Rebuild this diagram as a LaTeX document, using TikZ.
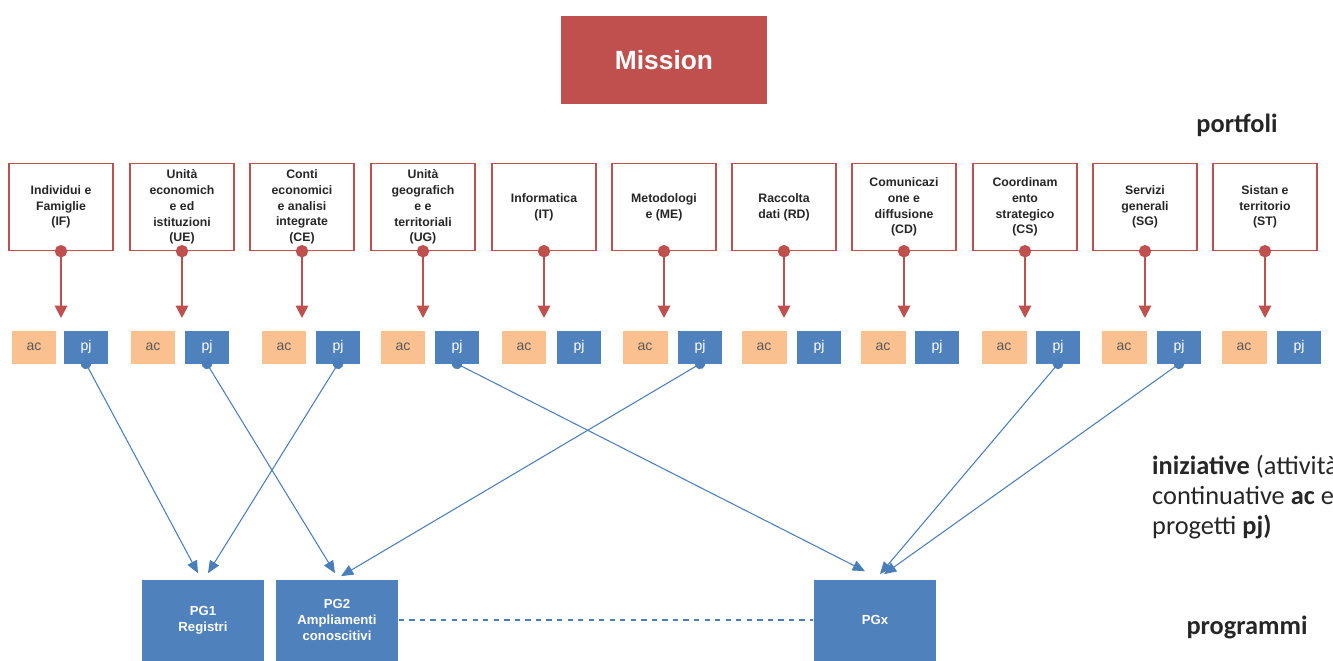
\documentclass[tikz,border=0pt]{standalone}
\usepackage{fontspec}
\setmainfont{Liberation Sans}
\newfontfamily\labelfont{Carlito}
\usetikzlibrary{arrows.meta,calc,positioning}
\definecolor{missionred}{HTML}{C0504D}
\definecolor{pjblue}{HTML}{4F81BD}
\definecolor{acorange}{HTML}{FAC090}
\definecolor{linkblue}{HTML}{4A7EBB}

\begin{document}
\begin{tikzpicture}[
    x=0.02cm, y=-0.02cm,
    portfolio/.style={
        draw=missionred, fill=white,
        line width=0.8pt, inner sep=1pt,
        minimum width=2.08cm, minimum height=1.74cm,
        align=center, text=black!85,
        font=\fontsize{7}{9}\selectfont\bfseries
    },
    acbox/.style={fill=acorange, minimum width=0.9cm, minimum height=0.66cm,
        text=black!65, font=\fontsize{8}{9}\selectfont},
    pjbox/.style={fill=pjblue, minimum width=0.88cm, minimum height=0.66cm,
        text=white, font=\fontsize{8}{9}\selectfont},
    program/.style={fill=pjblue, minimum width=2.46cm, minimum height=1.62cm,
        align=center, text=white, font=\fontsize{7.5}{9.2}\selectfont\bfseries},
    redlink/.style={draw=missionred, line width=1.1pt, shorten <=-3.5pt,
        {Circle[length=7pt]}-{Triangle[length=7pt,width=7pt]}},
    bluelink/.style={draw=linkblue, line width=0.6pt, shorten <=-3pt,
        {Circle[length=6pt]}-{Triangle[length=7pt,width=6pt]}},
    sidelabel/.style={text=black!85, font=\labelfont\fontsize{15}{17}\selectfont}
]
\useasboundingbox (0,0) rectangle (1333,660);

\node[fill=missionred, minimum width=4.14cm, minimum height=1.76cm,
    text=white, font=\fontsize{15}{18}\selectfont\bfseries] (mission) at (664,60) {Mission};

\foreach \c/\ac/\pj/\txt [count=\i] in {
    61/34/86/{Individui e\\Famiglie\\(IF)},
    182/153/207/{Unità\\economich\\e ed\\istituzioni\\(UE)},
    302/284/338/{Conti\\economici\\e analisi\\integrate\\(CE)},
    423/403/457/{Unità\\geografich\\e e\\territoriali\\(UG)},
    544/524/579/{Informatica\\(IT)},
    664/645/700/{Metodologi\\e (ME)},
    784/764/819/{Raccolta\\dati (RD)},
    904/883/937/{Comunicazi\\one e\\diffusione\\(CD)},
    1025/1004/1058/{Coordinam\\ento\\strategico\\(CS)},
    1145/1124/1179/{Servizi\\generali\\(SG)},
    1265/1244/1299/{Sistan e\\territorio\\(ST)}}{
  \node[portfolio] (pf\i) at (\c,207) {\txt};
  \node[acbox] (ac\i) at (\ac,347) {ac};
  \node[pjbox] (pj\i) at (\pj,347) {pj};
  \coordinate (in\i) at (\c,318);
  \draw[redlink] (pf\i.south) -- (in\i);
}

\node[program] (pg1) at (203,620) {PG1\\Registri};
\node[program] (pg2) at (337,620) {PG2\\Ampliamenti\\conoscitivi};
\node[program] (pgx) at (875,620) {PGx};

\draw[bluelink] (pj1.south) -- ($(pg1.north)+(-5,-6)$);
\draw[bluelink] (pj3.south) -- ($(pg1.north)+(5,-6)$);
\draw[bluelink] (pj2.south) -- ($(pg2.north)+(-2,-6)$);
\draw[bluelink] (pj6.south) -- ($(pg2.north)+(4,-3)$);
\draw[bluelink] (pj4.south) -- ($(pgx.north)+(-10,-8)$);
\draw[bluelink] (pj9.south) -- ($(pgx.north)+(5,-5)$);
\draw[bluelink] (pj10.south) -- ($(pgx.north)+(9,-5)$);
\draw[linkblue, line width=0.6pt, dashed] (pg2.east) -- (pgx.west);

\node[sidelabel] (portfoli) at (1237,125) {\textbf{portfoli}};
\node[sidelabel, anchor=north west, align=left] (iniziative) at (1146,449)
    {\textbf{iniziative} (attività\\continuative \textbf{ac} e\\progetti \textbf{pj)}};
\node[sidelabel] (programmi) at (1247,627) {\textbf{programmi}};
\end{tikzpicture}
\end{document}
